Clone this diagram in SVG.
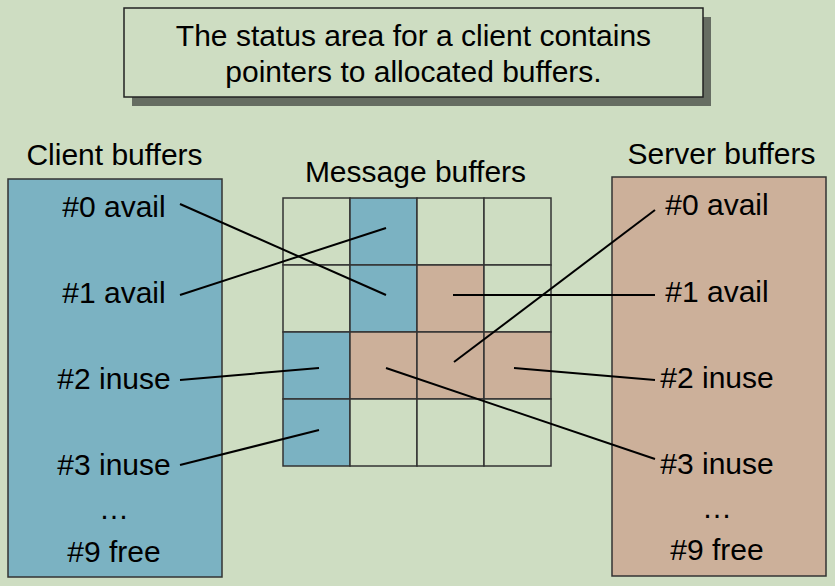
<svg xmlns="http://www.w3.org/2000/svg" width="835" height="586" viewBox="0 0 835 586">
<style>
text{font-family:"Liberation Sans",Arial,sans-serif;font-size:30px;fill:#000;text-anchor:middle}
.cell{stroke:#333;stroke-width:1.5}
.g{fill:#CEDDC2}.b{fill:#7BB2C2}.t{fill:#CCB09A}
.ln{stroke:#000;stroke-width:2;fill:none}
</style>
<rect width="835" height="586" fill="#CEDDC2"/>
<g id="title">
<rect x="132" y="17" width="579" height="89" fill="#666D62"/>
<rect x="124" y="8" width="579" height="89" fill="#CEDDC2" stroke="#222" stroke-width="1.5"/>
<text x="413.5" y="46">The status area for a client contains</text>
<text x="413.5" y="82">pointers to allocated buffers.</text>
</g>
<g id="client">
<text x="114.5" y="165">Client buffers</text>
<rect x="8" y="179" width="214" height="398" fill="#7BB2C2" stroke="#333" stroke-width="1.5"/>
<text x="114" y="217">#0 avail</text>
<text x="114" y="303">#1 avail</text>
<text x="114" y="389">#2 inuse</text>
<text x="114" y="475">#3 inuse</text>
<text x="114" y="519">…</text>
<text x="114" y="562">#9 free</text>
</g>
<g id="server">
<text x="721.5" y="164">Server buffers</text>
<rect x="612" y="177" width="214" height="399" fill="#CCB09A" stroke="#333" stroke-width="1.5"/>
<text x="717" y="215">#0 avail</text>
<text x="717" y="302">#1 avail</text>
<text x="717" y="388">#2 inuse</text>
<text x="717" y="474">#3 inuse</text>
<text x="717" y="518">…</text>
<text x="717" y="560">#9 free</text>
</g>
<g id="messages">
<text x="415.5" y="182">Message buffers</text>
<rect class="cell g" x="283" y="198" width="67" height="67"/>
<rect class="cell b" x="350" y="198" width="67" height="67"/>
<rect class="cell g" x="417" y="198" width="67" height="67"/>
<rect class="cell g" x="484" y="198" width="67" height="67"/>
<rect class="cell g" x="283" y="265" width="67" height="67"/>
<rect class="cell b" x="350" y="265" width="67" height="67"/>
<rect class="cell t" x="417" y="265" width="67" height="67"/>
<rect class="cell g" x="484" y="265" width="67" height="67"/>
<rect class="cell b" x="283" y="332" width="67" height="67"/>
<rect class="cell t" x="350" y="332" width="67" height="67"/>
<rect class="cell t" x="417" y="332" width="67" height="67"/>
<rect class="cell t" x="484" y="332" width="67" height="67"/>
<rect class="cell b" x="283" y="399" width="67" height="67"/>
<rect class="cell g" x="350" y="399" width="67" height="67"/>
<rect class="cell g" x="417" y="399" width="67" height="67"/>
<rect class="cell g" x="484" y="399" width="67" height="67"/>
</g>
<g id="connectors">
<line class="ln" x1="180" y1="204" x2="386" y2="295"/>
<line class="ln" x1="180" y1="295" x2="386" y2="228"/>
<line class="ln" x1="180" y1="380" x2="319" y2="368"/>
<line class="ln" x1="180" y1="465" x2="319" y2="430"/>
<line class="ln" x1="655" y1="210" x2="454" y2="362"/>
<line class="ln" x1="655" y1="295" x2="453" y2="295"/>
<line class="ln" x1="655" y1="380" x2="514" y2="368"/>
<line class="ln" x1="655" y1="459" x2="386" y2="368"/>
</g>
</svg>
